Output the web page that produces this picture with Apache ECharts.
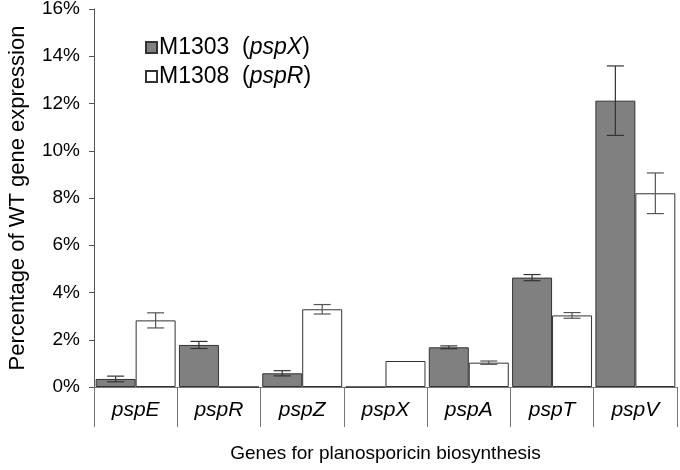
<!DOCTYPE html>
<html>
<head>
<meta charset="utf-8">
<script src="https://cdn.jsdelivr.net/npm/echarts@6/dist/echarts.min.js"></script>
<style>html,body{margin:0;padding:0;background:#fff}#c{width:680px;height:470px}</style>
</head>
<body>
<div id="c"></div>
<script>
const categories = ['pspE', 'pspR', 'pspZ', 'pspX', 'pspA', 'pspT', 'pspV'];
const seriesNames = ['M1303', 'M1308'];
const seriesGenes = ['pspX', 'pspR'];
const m1303Values = [0.34, 1.78, 0.58, 0, 1.68, 4.63, 12.12];
const m1303Errors = [0.12, 0.15, 0.11, 0, 0.06, 0.13, 1.47];
const m1308Values = [2.82, 0, 3.29, 1.10, 1.03, 3.03, 8.20];
const m1308Errors = [0.32, 0, 0.20, 0, 0.07, 0.12, 0.86];
const yTicks = { min: 0, max: 16, interval: 2 };

const FONT = 'Liberation Sans';
const CAT_GAP = 0.04;

const errData = [];
m1303Values.forEach((v, i) => { if (m1303Errors[i] > 0) errData.push([i, v, m1303Errors[i], 0]); });
m1308Values.forEach((v, i) => { if (m1308Errors[i] > 0) errData.push([i, v, m1308Errors[i], 1]); });

function renderErr(params, api) {
  const idx = api.value(0), val = api.value(1), err = api.value(2), s = api.value(3);
  const catW = api.size([1, 0])[0];
  const barW = catW * (1 - CAT_GAP) / 2;
  const cx = api.coord([idx, val])[0] + (s === 0 ? -barW / 2 : barW / 2);
  const yTop = api.coord([idx, val + err])[1];
  const yBot = api.coord([idx, val - err])[1];
  const hw = 8.5;
  const style = { stroke: s === 0 ? '#333' : '#555', lineWidth: 1.2 };
  return {
    type: 'group',
    children: [
      { type: 'line', shape: { x1: cx, y1: yTop, x2: cx, y2: yBot }, style },
      { type: 'line', shape: { x1: cx - hw, y1: yTop, x2: cx + hw, y2: yTop }, style },
      { type: 'line', shape: { x1: cx - hw, y1: yBot, x2: cx + hw, y2: yBot }, style }
    ]
  };
}

const chart = echarts.init(document.getElementById('c'), null, { renderer: 'canvas' });
chart.setOption({
  animation: false,
  textStyle: { fontFamily: FONT },
  grid: { left: 94, right: 3, top: 9, bottom: 83, containLabel: false, outerBoundsMode: 'none' },
  legend: {
    orient: 'vertical',
    left: 140,
    top: 31,
    itemWidth: 11,
    itemHeight: 11,
    itemGap: 6,
    icon: 'rect',
    data: seriesNames,
    formatter: function (name) {
      const g = seriesGenes[seriesNames.indexOf(name)];
      return '{n|' + name + '  (}{i|' + g + '}{n|)}';
    },
    textStyle: {
      fontFamily: FONT,
      color: '#000',
      padding: [0, 0, 0, -3],
      rich: {
        n: { fontSize: 23, fontFamily: FONT, color: '#000', lineHeight: 26 },
        i: { fontSize: 23, fontFamily: FONT, fontStyle: 'italic', color: '#000', lineHeight: 26 }
      }
    }
  },
  xAxis: {
    type: 'category',
    data: categories,
    name: 'Genes for planosporicin biosynthesis',
    nameLocation: 'middle',
    nameGap: 57,
    nameTextStyle: { fontSize: 19, color: '#000', fontFamily: FONT },
    axisLine: { show: true, lineStyle: { color: '#777', width: 1 } },
    axisTick: { show: true, length: 40, interval: 0, alignWithLabel: false, lineStyle: { color: '#777', width: 1 } },
    axisLabel: { fontSize: 21, fontStyle: 'italic', color: '#000', margin: 13, interval: 0, fontFamily: FONT },
    splitLine: { show: false }
  },
  yAxis: {
    type: 'value',
    min: yTicks.min,
    max: yTicks.max,
    interval: yTicks.interval,
    name: 'Percentage of WT gene expression',
    nameLocation: 'middle',
    nameGap: 65,
    nameTextStyle: { fontSize: 22, color: '#000', fontFamily: FONT },
    axisLine: { show: true, lineStyle: { color: '#555', width: 1 } },
    axisTick: { show: true, length: 5, lineStyle: { color: '#555' } },
    axisLabel: { fontSize: 19, color: '#000', margin: 14, formatter: '{value}%', fontFamily: FONT },
    splitLine: { show: false }
  },
  series: [
    {
      name: seriesNames[0], type: 'bar', data: m1303Values,
      barGap: '0%', barCategoryGap: (CAT_GAP * 100) + '%',
      itemStyle: { color: '#808080', borderColor: '#333', borderWidth: 1 }
    },
    {
      name: seriesNames[1], type: 'bar', data: m1308Values,
      barGap: '0%', barCategoryGap: (CAT_GAP * 100) + '%',
      itemStyle: { color: '#ffffff', borderColor: '#333', borderWidth: 1 }
    },
    {
      type: 'custom', renderItem: renderErr, data: errData, z: 10,
      encode: { x: 0, y: 1 }, silent: true
    }
  ]
});
</script>
</body>
</html>
